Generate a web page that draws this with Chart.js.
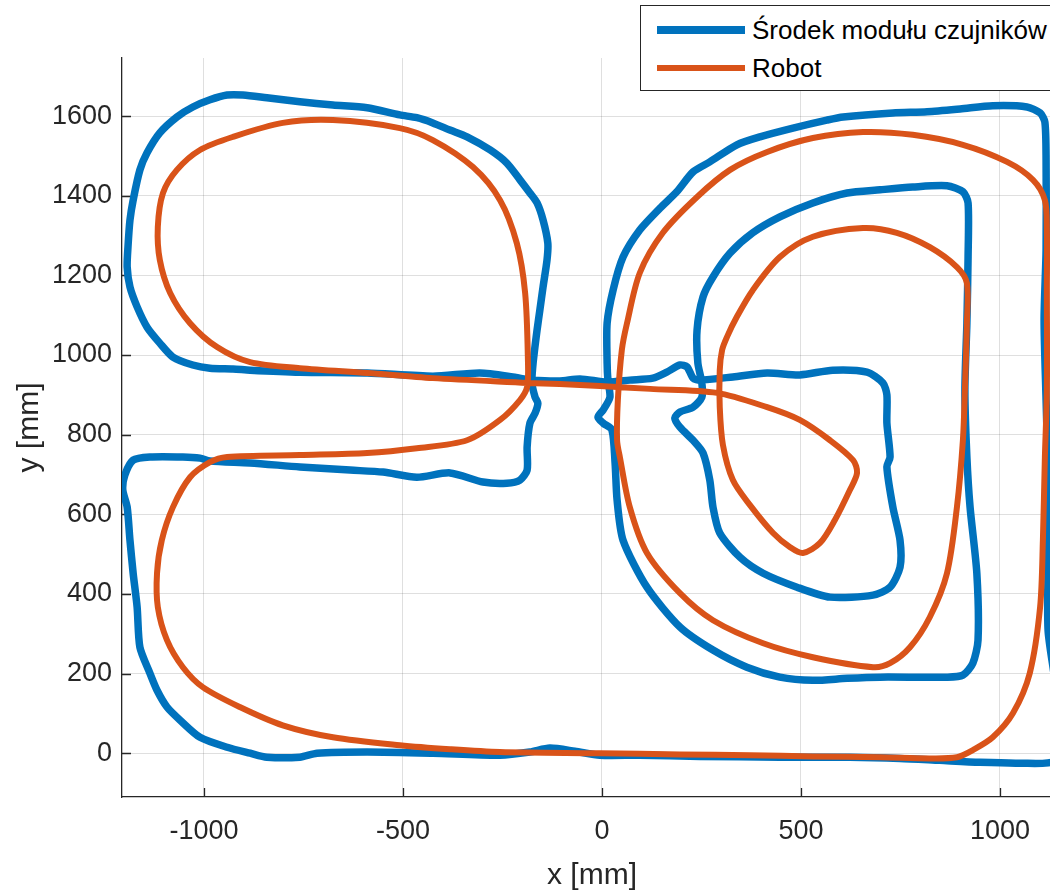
<!DOCTYPE html>
<html>
<head>
<meta charset="utf-8">
<title>Trajektoria robota</title>
<script src="https://cdn.jsdelivr.net/npm/chart.js@4.4.1/dist/chart.umd.min.js"></script>
<style>
  html, body { margin: 0; padding: 0; background: #fff; overflow: hidden; }
  #wrap { position: relative; width: 1050px; height: 892px; overflow: hidden; background: #fff; }
  #plot { position: absolute; left: 0; top: 0; }
  #legend {
    position: absolute; left: 640px; top: 5px; width: 440px; height: 84px;
    border: 1px solid #262626; background: #fff;
    font-family: "Liberation Sans", Arial, sans-serif; font-size: 26px; color: #000;
  }
  #legend .item { position: absolute; left: 16px; height: 30px; display: flex; align-items: center; white-space: nowrap; }
  #legend .swatch { width: 88px; margin-right: 7px; border-radius: 0; }
</style>
</head>
<body>
<div id="wrap">
  <canvas id="plot" width="1062" height="892"></canvas>
  <div id="legend"></div>
</div>
<script>
// Series names
const seriesNames = ['Środek modułu czujników', 'Robot'];

// Sensor module centre trajectory [mm]
const sensorX = [-181,-106,-55,13,70,128,163,196,214,229,
  246,329,415,497,580,666,706,716,716,724,
  716,731,749,749,724,681,573,490,405,347,
  296,279,271,254,229,196,183,196,229,251,
  251,241,239,254,279,322,379,447,530,616,
  699,781,867,907,920,920,917,912,917,925,
  942,945,932,907,867,699,616,530,447,364,
  279,196,113,53,38,33,25,3,-10,3,
  20,15,13,13,28,53,95,146,188,
  229,271,339,397,480,565,606,731,817,900,
  982,1068,1101,1113,1116,1116,1111,1116,1121,1121,
  1121,1138,1151,1138,1050,950,849,749,623,447,
  246,95,-5,-68,-131,-181,-256,-425,-590,-716,
  -759,-842,-884,-942,-1010,-1060,-1093,-1118,-1136,-1161,
  -1168,-1178,-1186,-1193,-1204,-1199,-1178,-1136,-1053,-1010,
  -985,-884,-759,-633,-550,-465,-382,-299,-239,-206,
  -188,-188,-181,-168,-161,-168,-176,-173,-163,-156,
  -148,-138,-136,-148,-163,-181,-206,-239,-281,-339,
  -382,-425,-465,-508,-590,-676,-759,-842,-902,-942,
  -985,-1028,-1068,-1111,-1143,-1161,-1178,-1186,-1191,-1193,
  -1186,-1168,-1143,-1111,-1078,-1028,-985,-927,-884,-759,
  -590,-425,-307,-224,-181];
const sensorY = [937,935,940,932,937,942,957,975,970,942,
  937,945,955,950,962,957,930,900,829,744,
  719,618,535,467,417,397,392,417,452,492,
  553,618,686,754,786,819,842,857,869,894,
  930,980,1063,1146,1196,1256,1307,1347,1382,1407,
  1415,1422,1425,1410,1382,1246,1080,912,744,618,
  452,284,226,196,191,191,188,183,191,216,
  259,317,417,535,636,729,812,829,844,862,
  894,937,980,1080,1163,1246,1314,1369,1410,
  1460,1485,1528,1548,1570,1590,1598,1608,1611,1618,
  1626,1623,1608,1585,1490,1264,1088,887,686,485,
  309,183,33,-20,-25,-23,-18,-13,-10,-10,
  -8,-5,-5,5,13,3,-5,0,3,0,
  -10,-10,0,15,40,83,116,158,201,266,
  367,452,535,618,661,698,736,744,744,741,
  734,729,719,711,706,693,704,681,678,686,
  711,769,829,854,879,894,930,980,1063,1113,
  1171,1239,1281,1339,1382,1407,1440,1482,1515,1548,
  1565,1583,1596,1603,1621,1628,1636,1646,1653,1653,
  1641,1623,1598,1558,1508,1465,1389,1339,1271,1221,
  1171,1121,1070,1030,995,975,967,965,962,957,
  955,947,955,945,937];

// Robot trajectory [mm]
const robotX = [-188,-106,-5,121,289,415,497,573,631,641,
  623,585,548,505,472,430,372,329,304,296,
  296,302,314,339,379,447,530,656,741,824,
  892,917,917,912,907,892,867,824,774,724,
  681,530,405,279,196,113,70,45,38,40,
  50,63,95,153,239,322,415,530,656,781,
  907,1018,1083,1113,1118,1118,1118,1113,1108,1101,
  1075,1033,982,932,892,824,699,530,372,196,
  -5,-256,-382,-508,-676,-802,-910,-1003,-1053,-1093,
  -1116,-1118,-1106,-1078,-1035,-985,-942,-759,-590,-465,
  -339,-256,-206,-188,-186,-193,-214,-256,-324,-425,
  -508,-676,-802,-927,-1010,-1068,-1103,-1116,-1111,-1085,
  -1035,-967,-884,-759,-590,-425,-188];
const robotY = [930,927,922,915,905,869,837,786,736,704,
  661,585,528,503,518,553,623,686,774,869,
  962,1013,1045,1096,1163,1246,1297,1319,1307,1271,
  1221,1181,1080,912,786,618,452,342,266,226,
  216,241,276,334,402,503,618,744,786,887,
  1013,1080,1206,1307,1397,1465,1510,1545,1560,1553,
  1528,1485,1440,1389,1314,1163,912,744,535,367,
  201,101,40,8,-10,-13,-10,-8,-5,-3,
  0,3,10,20,40,70,116,166,216,284,
  367,452,535,618,693,731,744,749,754,766,
  786,837,887,920,987,1156,1281,1389,1472,1540,
  1570,1590,1583,1548,1515,1465,1407,1322,1239,1156,
  1080,1020,982,967,955,942,930];

// Axis ticks
const xTicks = [-1000, -500, 0, 500, 1000];
const yTicks = [0, 200, 400, 600, 800, 1000, 1200, 1400, 1600];

const FONT = '"Liberation Sans", Arial, Helvetica, sans-serif';
const AXIS = '#262626';
const GRID = 'rgba(38,38,38,0.15)';

const toPoints = (xs, ys) => xs.map((x, i) => ({ x: x, y: ys[i] }));

// Short tick marks pointing into the plot area
const innerTicks = {
  id: 'innerTicks',
  beforeDatasetsDraw(chart) {
    const { ctx, chartArea: a, scales } = chart;
    const len = 9;
    ctx.save();
    ctx.strokeStyle = AXIS;
    ctx.lineWidth = 1.3;
    ctx.beginPath();
    scales.x.ticks.forEach(t => {
      const p = Math.round(scales.x.getPixelForValue(t.value)) + 0.5;
      ctx.moveTo(p, a.bottom);
      ctx.lineTo(p, a.bottom - len);
    });
    scales.y.ticks.forEach(t => {
      const p = Math.round(scales.y.getPixelForValue(t.value)) + 0.5;
      ctx.moveTo(a.left, p);
      ctx.lineTo(a.left + len, p);
    });
    ctx.stroke();
    ctx.restore();
  }
};

// Legend built from the chart's datasets
const htmlLegend = {
  id: 'htmlLegend',
  afterInit(chart) {
    const box = document.getElementById('legend');
    box.innerHTML = '';
    chart.data.datasets.forEach((ds, i) => {
      const item = document.createElement('div');
      item.className = 'item';
      item.style.top = (9 + i * 38) + 'px';
      const sw = document.createElement('span');
      sw.className = 'swatch';
      sw.style.height = ds.borderWidth + 'px';
      sw.style.background = ds.borderColor;
      const tx = document.createElement('span');
      tx.textContent = ds.label;
      item.appendChild(sw);
      item.appendChild(tx);
      box.appendChild(item);
    });
  }
};

Chart.defaults.font.family = FONT;

new Chart(document.getElementById('plot'), {
  type: 'scatter',
  data: {
    datasets: [
      {
        label: seriesNames[0],
        data: toPoints(sensorX, sensorY),
        showLine: true,
        borderColor: '#0072BD',
        backgroundColor: '#0072BD',
        borderWidth: 7.5,
        pointRadius: 0,
        tension: 0.25,
        borderJoinStyle: 'round',
        borderCapStyle: 'round',
        order: 1
      },
      {
        label: seriesNames[1],
        data: toPoints(robotX, robotY),
        showLine: true,
        borderColor: '#D95319',
        backgroundColor: '#D95319',
        borderWidth: 6,
        pointRadius: 0,
        tension: 0.3,
        borderJoinStyle: 'round',
        borderCapStyle: 'round',
        order: 0
      }
    ]
  },
  options: {
    responsive: false,
    animation: false,
    devicePixelRatio: 1,
    events: [],
    layout: { padding: { top: 58, left: 0, right: 0, bottom: 0 } },
    plugins: { legend: { display: false }, tooltip: { enabled: false } },
    scales: {
      x: {
        type: 'linear',
        min: -1206,
        max: 1156,
        afterFit: s => { s.height = 95; },
        afterBuildTicks: s => { s.ticks = xTicks.map(v => ({ value: v })); },
        grid: { color: GRID, lineWidth: 1, drawTicks: false },
        border: { display: true, color: AXIS, width: 1.3 },
        ticks: {
          padding: 18, color: AXIS, maxRotation: 0, autoSkip: false,
          font: { size: 27 },
          callback: v => String(v)
        },
        title: {
          display: true, text: 'x [mm]', color: AXIS,
          font: { size: 30, lineHeight: 1.1 }, padding: { top: 0, bottom: 0 }
        }
      },
      y: {
        type: 'linear',
        min: -110,
        max: 1746,
        afterFit: s => { s.width = 122; },
        afterBuildTicks: s => { s.ticks = yTicks.map(v => ({ value: v })); },
        grid: { color: GRID, lineWidth: 1, drawTicks: false },
        border: { display: true, color: AXIS, width: 1.3 },
        ticks: {
          padding: 10, color: AXIS, autoSkip: false,
          font: { size: 27 },
          callback: v => String(v)
        },
        title: {
          display: true, text: 'y [mm]', color: AXIS,
          font: { size: 30, lineHeight: 1.1 }, padding: { top: 13, bottom: 0 }
        }
      }
    }
  },
  plugins: [innerTicks, htmlLegend]
});
</script>
</body>
</html>
